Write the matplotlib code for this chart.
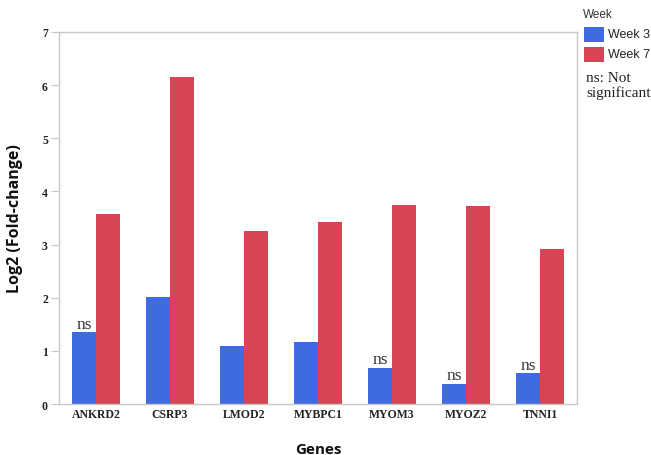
import matplotlib
matplotlib.use("Agg")
import matplotlib.pyplot as plt
import numpy as np
from matplotlib.patches import Rectangle

genes = ["ANKRD2", "CSRP3", "LMOD2", "MYBPC1", "MYOM3", "MYOZ2", "TNNI1"]
week3 = [1.35, 2.02, 1.10, 1.16, 0.68, 0.38, 0.58]
week7 = [3.57, 6.16, 3.26, 3.43, 3.74, 3.72, 2.91]
ns_flags = [True, False, False, False, True, True, True]
series_names = ["Week 3", "Week 7"]

blue = "#3F6BE0"
red = "#D74455"

W, H = 651, 456
fig = plt.figure(figsize=(W / 100, H / 100), dpi=100)
ax = fig.add_axes([59 / W, 1 - 405 / H, 518 / W, 372 / H])

x = np.arange(len(genes))
w = 0.325
ax.bar(x - w / 2, week3, width=w, color=blue)
ax.bar(x + w / 2, week7, width=w, color=red)

for xi, v, f in zip(x, week3, ns_flags):
    if f:
        ax.text(xi - w / 2, v + 0.01, "ns", ha="center", va="bottom",
                family="Liberation Serif", fontsize=12.5, color="#333333")

ax.set_xlim(-0.5, 6.5)
ax.set_ylim(0, 7)
ax.set_yticks(range(8))
ax.set_yticklabels([str(i) for i in range(8)], family="Liberation Serif",
                   fontweight="bold", fontsize=8.5, color="#222222")
ax.set_xticks(x)
ax.set_xticklabels(genes, family="Liberation Serif", fontweight="bold",
                   fontsize=8.5, color="#222222")
ax.tick_params(axis="x", length=0, pad=3)
ax.tick_params(axis="y", length=6, color="#c8c8c8", pad=2)
for s in ax.spines.values():
    s.set_color("#c8c8c8")
    s.set_linewidth(1.0)

ax.set_ylabel("Log2 (Fold-change)", family="Open Sans", fontweight="bold",
              fontsize=11.5, color="#111111")
ax.yaxis.set_label_coords((23 - 59) / 518, 0.5)
ax.set_xlabel("Genes", family="Open Sans", fontweight="bold",
              fontsize=11, color="#111111")
ax.xaxis.set_label_coords(0.5, (405 - 443) / 372)

# legend
fig.text(583 / W, 1 - 15 / H, "Week", family="Liberation Sans", fontsize=8.5,
         color="#333333", va="center", ha="left")
for i, (name, col) in enumerate(zip(series_names, [blue, red])):
    top = 28 + i * 20
    fig.add_artist(Rectangle((584 / W, 1 - (top + 14.5) / H), 20 / W, 14.5 / H,
                             transform=fig.transFigure, color=col, lw=0))
    fig.text(608 / W, 1 - (top + 7.5) / H, name, family="Liberation Sans",
             fontsize=9, color="#222222", va="center", ha="left")

fig.text(586 / W, 1 - 72 / H, "ns: Not\nsignificant", family="Liberation Serif",
         fontsize=11, color="#222222", va="top", ha="left", linespacing=1.1)

fig.savefig("out.png", dpi=100)
